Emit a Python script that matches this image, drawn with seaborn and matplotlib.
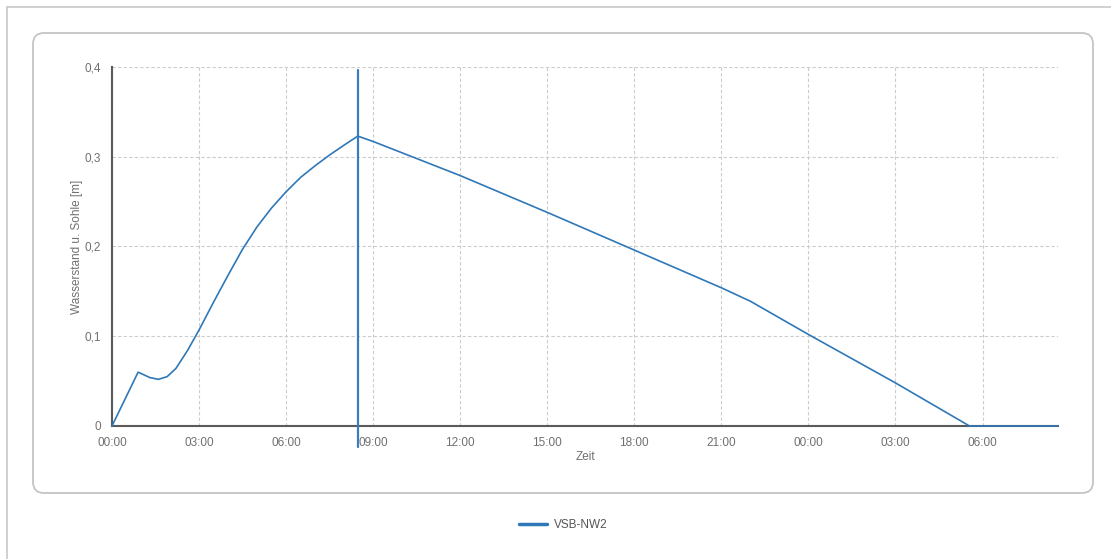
"""Wasserstand VSB-NW2 chart."""

import pandas as pd
import matplotlib.pyplot as plt
import seaborn as sns
from matplotlib.patches import FancyBboxPatch
from matplotlib.ticker import MultipleLocator, FuncFormatter

# time in hours since start, water level in m
hours = [0.0, 0.9, 1.1, 1.3, 1.6, 1.9, 2.2, 2.6, 3.0, 3.5, 4.0, 4.5, 5.0,
         5.5, 6.0, 6.5, 7.0, 7.5, 8.0, 8.47, 9.0, 12.0, 15.0, 18.0, 21.0,
         22.0, 24.0, 27.0, 29.55, 32.6]
level = [0.0, 0.060, 0.057, 0.054, 0.052, 0.055, 0.064, 0.084, 0.107, 0.138,
         0.168, 0.197, 0.222, 0.243, 0.261, 0.277, 0.290, 0.302, 0.313, 0.323,
         0.317, 0.279, 0.238, 0.196, 0.154, 0.139, 0.102, 0.048, 0.0, 0.0]
series_name = "VSB-NW2"
cursor_hour = 8.47

sns.set_style("white")
plt.rcParams['font.family'] = ['Liberation Sans', 'DejaVu Sans']

fig = plt.figure(figsize=(11.11, 5.59), dpi=100)

# background frame in pixel coordinates
bg = fig.add_axes([0, 0, 1, 1], zorder=0)
bg.set_xlim(0, 1111)
bg.set_ylim(559, 0)
bg.axis('off')
bg.plot([7, 1111], [7, 7], color='#c8c8c8', lw=1.2)
bg.plot([7, 7], [7, 559], color='#c8c8c8', lw=1.2)
bg.add_patch(FancyBboxPatch((33, 33), 1060, 460,
                            boxstyle="round,pad=0,rounding_size=11",
                            fc='white', ec='#c4c4c4', lw=1.3))

ax = fig.add_axes([112 / 1111, 133 / 559, 946 / 1111, 359 / 559], zorder=1)
ax.patch.set_alpha(0)

df = pd.DataFrame({'Zeit': hours, 'Wert': level})
line_color = '#2f78b8'
sns.lineplot(data=df, x='Zeit', y='Wert', ax=ax, color=line_color,
             lw=1.2, label=series_name, legend=False)
for ln in ax.get_lines():
    ln.set_zorder(5)
    ln.set_clip_on(False)
ax.axvline(cursor_hour, ymin=-0.058, ymax=0.992, color='#3a7cc2',
           lw=1.6, clip_on=False, zorder=5)

ax.set_xlim(0, 32.6)
ax.set_ylim(0, 0.4)
ax.xaxis.set_major_locator(MultipleLocator(3))
ax.xaxis.set_minor_locator(MultipleLocator(1.5))
ax.yaxis.set_major_locator(MultipleLocator(0.1))
ax.yaxis.set_minor_locator(MultipleLocator(0.05))
ax.xaxis.set_major_formatter(FuncFormatter(lambda v, p: f"{int(round(v)) % 24:02d}:00"))
ax.yaxis.set_major_formatter(FuncFormatter(
    lambda v, p: "0" if abs(v) < 1e-9 else f"{v:.1f}".replace('.', ',')))

for side in ['top', 'right']:
    ax.spines[side].set_visible(False)
for side in ['left', 'bottom']:
    ax.spines[side].set_color('#5a5a5a')
    ax.spines[side].set_linewidth(1.5)

ax.tick_params(which='both', direction='out', color='#5a5a5a', width=1.4,
               labelsize=8.5, labelcolor='#707070')
ax.tick_params(which='major', length=5, pad=3)
ax.tick_params(which='minor', length=4)
ax.grid(True, which='major', color='#cccccc', ls=(0, (3, 2)), lw=0.8)

ax.set_xlabel('Zeit', fontsize=8.5, color='#707070', labelpad=1)
ax.set_ylabel('Wasserstand u. Sohle [m]', fontsize=8.5, color='#707070',
              labelpad=1)

fig.legend(loc='center', bbox_to_anchor=(0.507, 1 - 525 / 559), frameon=False,
           fontsize=8.5, labelcolor='#555555', handlelength=2.4,
           handletextpad=0.6)
for h in fig.legends[0].get_lines():
    h.set_linewidth(2.5)

fig.savefig('out.png', dpi=100)
